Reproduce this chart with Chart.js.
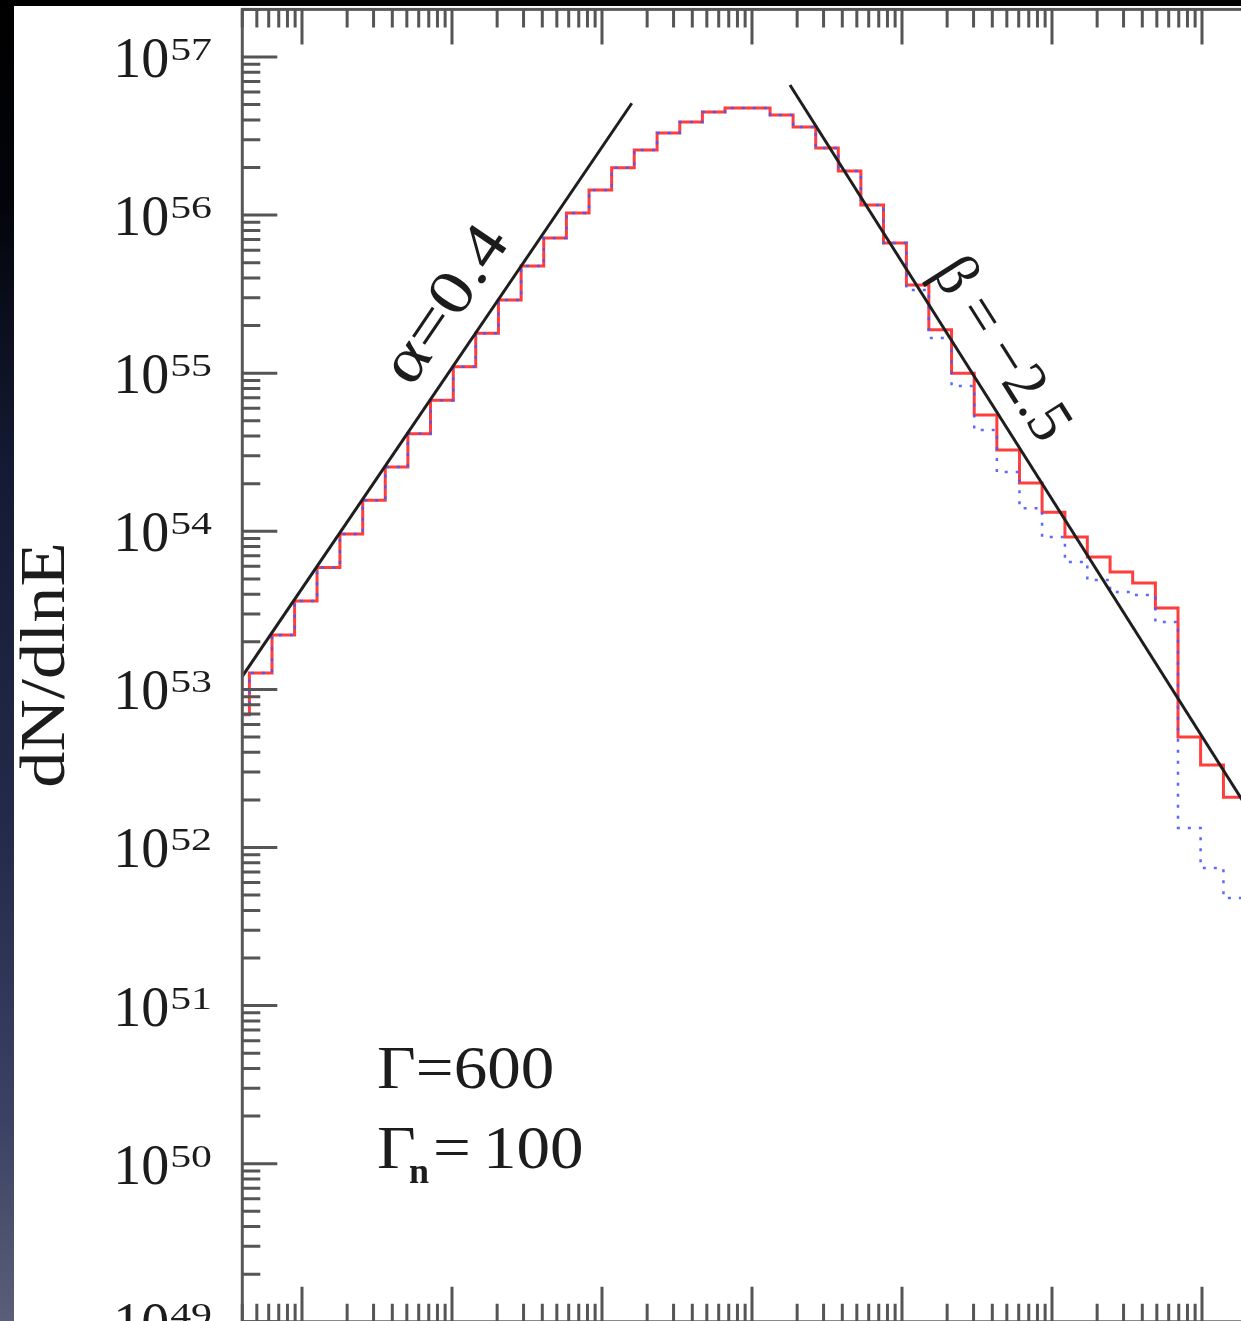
<!DOCTYPE html>
<html>
<head>
<meta charset="utf-8">
<script src="https://cdn.jsdelivr.net/npm/chart.js@4.4.1/dist/chart.umd.min.js"></script>
<style>
  html, body { margin: 0; padding: 0; width: 1241px; height: 1321px; overflow: hidden; }
  body {
    position: relative;
    background: linear-gradient(to bottom, #000 0%, #03040a 15%, #141a33 35%, #252c4c 65%, #3c4263 85%, #5a5e78 100%);
  }
  #panel { position: absolute; left: 14px; top: 6px; width: 1400px; height: 1400px; background: #fff; }
  #c { position: absolute; left: 0; top: 0; }
</style>
</head>
<body>
<div id="panel"></div>
<canvas id="c" width="1320" height="1340"></canvas>
<script>
// Energy bin edges (keV), logarithmic binning
const binEdges = [0.315, 0.446, 0.631, 0.893, 1.26, 1.79, 2.54, 3.59, 5.08, 7.19,
  10.2, 14.4, 20.4, 28.9, 40.9, 57.9, 82.0, 116, 164, 233,
  330, 467, 661, 935, 1320, 1880, 2660, 3760, 5320, 7530,
  1.07e4, 1.51e4, 2.14e4, 3.03e4, 4.29e4, 6.07e4, 8.59e4, 1.22e5, 1.72e5, 2.44e5,
  3.45e5, 4.89e5, 6.92e5, 9.79e5, 1.39e6, 1.96e6];

// dN/dlnE per bin, full spectrum (solid red)
const spectrumTotal = [6.9e52, 1.27e53, 2.21e53, 3.62e53, 5.91e53, 9.62e53, 1.57e54, 2.55e54, 4.14e54, 6.74e54,
  1.10e55, 1.79e55, 2.90e55, 4.76e55, 7.16e55, 1.03e56, 1.44e56, 1.99e56, 2.58e56, 3.31e56,
  3.88e56, 4.49e56, 4.76e56, 4.76e56, 4.30e56, 3.61e56, 2.66e56, 1.90e56, 1.16e56, 6.66e55,
  3.61e55, 1.88e55, 1.00e55, 5.44e54, 3.27e54, 2.02e54, 1.32e54, 9.20e53, 6.88e53, 5.53e53,
  4.71e53, 3.27e53, 5.00e52, 3.33e52, 2.08e52];

// dN/dlnE per bin, dotted blue spectrum
const spectrumDotted = [6.9e52, 1.27e53, 2.21e53, 3.62e53, 5.91e53, 9.62e53, 1.57e54, 2.55e54, 4.14e54, 6.74e54,
  1.10e55, 1.79e55, 2.90e55, 4.76e55, 7.16e55, 1.03e56, 1.44e56, 1.99e56, 2.58e56, 3.31e56,
  3.88e56, 4.49e56, 4.76e56, 4.76e56, 4.30e56, 3.61e56, 2.66e56, 1.90e56, 1.16e56, 6.66e55,
  3.36e55, 1.67e55, 8.30e54, 4.37e54, 2.37e54, 1.40e54, 9.20e53, 6.40e53, 4.92e53, 4.13e53,
  3.96e53, 2.67e53, 1.33e52, 7.42e51, 4.80e51];

// Power-law guides: low-energy slope (alpha = 0.4) and high-energy slope (beta = -2.5)
const alphaLineE = [0.4, 158];
const alphaLineN = [1.21e53, 5.1e56];
const betaLineE = [1791, 4e6];
const betaLineN = [6.65e56, 6.3e51];

// Axis decades
const xDecades = [0.1, 1, 10, 100, 1e3, 1e4, 1e5, 1e6];
const yExponents = [49, 50, 51, 52, 53, 54, 55, 56, 57];

const X_MIN = 0.4, X_MAX = 4e6, Y_MIN = 1e49, Y_MAX = 2e57;

function stepPoints(edges, vals) {
  return edges.map((e, i) => ({ x: e, y: vals[Math.min(i, vals.length - 1)] }));
}
function linePoints(xs, ys) { return xs.map((v, i) => ({ x: v, y: ys[i] })); }

function drawText(ctx, txt, x, y, o) {
  ctx.save();
  ctx.translate(x, y);
  ctx.rotate(o.angle || 0);
  ctx.scale(o.stretch || 1, 1);
  ctx.font = o.font;
  ctx.textAlign = o.align || 'left';
  ctx.textBaseline = o.baseline || 'alphabetic';
  ctx.fillStyle = o.color || '#1c1c1c';
  ctx.fillText(txt, 0, 0);
  ctx.restore();
}

const SERIF = "'Liberation Serif', 'Times New Roman', serif";

const frameAndText = {
  id: 'frameAndText',
  afterDatasetsDraw(chart) {
    const { ctx, chartArea: a, scales: { x, y } } = chart;
    ctx.save();
    // frame
    ctx.strokeStyle = '#585858';
    ctx.lineWidth = 3;
    ctx.strokeRect(a.left, a.top, a.right - a.left, a.bottom - a.top);

    // inward ticks on all four sides
    ctx.strokeStyle = '#555';
    ctx.lineWidth = 3;
    const MAJ = 35, MIN = 18;
    ctx.beginPath();
    for (const d of xDecades) {
      for (let m = 1; m <= 9; m++) {
        const v = d * m;
        if (v < X_MIN || v > X_MAX) continue;
        const px = x.getPixelForValue(v);
        const len = m === 1 ? MAJ : MIN;
        ctx.moveTo(px, a.top); ctx.lineTo(px, a.top + len);
        ctx.moveTo(px, a.bottom); ctx.lineTo(px, a.bottom - len);
      }
    }
    for (const e of yExponents) {
      for (let m = 1; m <= 9; m++) {
        const v = m * Math.pow(10, e);
        if (v < Y_MIN || v > Y_MAX) continue;
        const py = y.getPixelForValue(v);
        const len = m === 1 ? MAJ : MIN;
        ctx.moveTo(a.left, py); ctx.lineTo(a.left + len, py);
        ctx.moveTo(a.right, py); ctx.lineTo(a.right - len, py);
      }
    }
    ctx.stroke();

    // y tick labels 10^n
    const expFont = '31px ' + SERIF, baseFont = '56px ' + SERIF;
    const expStretch = 1.35;
    for (const e of yExponents) {
      const py = y.getPixelForValue(Math.pow(10, e));
      const expTxt = String(e);
      ctx.font = expFont;
      const expW = ctx.measureText(expTxt).width * expStretch;
      const right = 212;
      drawText(ctx, expTxt, right, py + 3, { font: expFont, align: 'right', stretch: expStretch });
      drawText(ctx, '10', right - expW - 1, py + 20, { font: baseFont, align: 'right' });
    }

    // y axis title
    drawText(ctx, 'dN/dlnE', 64, 665, { font: '63px ' + SERIF, align: 'center', angle: -Math.PI / 2, stretch: 1.15 });

    // slope labels, aligned with the guide lines
    const ax1 = x.getPixelForValue(alphaLineE[0]), ay1 = y.getPixelForValue(alphaLineN[0]);
    const ax2 = x.getPixelForValue(alphaLineE[1]), ay2 = y.getPixelForValue(alphaLineN[1]);
    const aAng = Math.atan2(ay2 - ay1, ax2 - ax1);
    drawText(ctx, 'α=0.4', x.getPixelForValue(9.33), y.getPixelForValue(2.68e55),
      { font: '63px ' + SERIF, align: 'center', baseline: 'middle', angle: aAng, stretch: 1.2 });

    const bx1 = x.getPixelForValue(betaLineE[0]), by1 = y.getPixelForValue(betaLineN[0]);
    const bx2 = x.getPixelForValue(betaLineE[1]), by2 = y.getPixelForValue(betaLineN[1]);
    const bAng = Math.atan2(by2 - by1, bx2 - bx1);
    drawText(ctx, 'β = −2.5', x.getPixelForValue(4.5e4), y.getPixelForValue(1.4e55),
      { font: '63px ' + SERIF, align: 'center', baseline: 'middle', angle: bAng, stretch: 0.96 });

    // Lorentz factors
    const gFont = '61px ' + SERIF;
    drawText(ctx, 'Γ=600', 377, 1088, { font: gFont, stretch: 1.1 });
    drawText(ctx, 'Γ', 377, 1168, { font: gFont, stretch: 1.1 });
    drawText(ctx, 'n', 409, 1183, { font: 'bold 36px ' + SERIF });
    drawText(ctx, '=', 433, 1168, { font: gFont, stretch: 1.1 });
    drawText(ctx, '100', 483, 1168, { font: gFont, stretch: 1.1 });

    ctx.restore();
  }
};

const canvas = document.getElementById('c');
const W = canvas.width, H = canvas.height;

new Chart(canvas, {
  type: 'line',
  data: {
    datasets: [
      {
        label: 'α fit', data: linePoints(alphaLineE, alphaLineN),
        borderColor: '#1e1e1e', borderWidth: 3, pointRadius: 0, order: 0
      },
      {
        label: 'β fit', data: linePoints(betaLineE, betaLineN),
        borderColor: '#1e1e1e', borderWidth: 3, pointRadius: 0, order: 0
      },
      {
        label: 'dotted', data: stepPoints(binEdges, spectrumDotted), stepped: true,
        borderColor: 'rgba(70,90,255,0.9)', borderWidth: 2.5, borderDash: [3, 8],
        pointRadius: 0, order: 1
      },
      {
        label: 'total', data: stepPoints(binEdges, spectrumTotal), stepped: true,
        borderColor: '#ff3d3d', borderWidth: 3, pointRadius: 0, order: 2
      }
    ]
  },
  options: {
    responsive: false,
    animation: false,
    devicePixelRatio: 1,
    layout: { padding: { left: 242.3, top: 9.4, right: W - 1292.3, bottom: H - 1321.8 } },
    scales: {
      x: { type: 'logarithmic', min: X_MIN, max: X_MAX, display: false },
      y: { type: 'logarithmic', min: Y_MIN, max: Y_MAX, display: false }
    },
    plugins: { legend: { display: false }, tooltip: { enabled: false } },
    elements: { line: { tension: 0, fill: false } }
  },
  plugins: [frameAndText]
});
</script>
</body>
</html>
